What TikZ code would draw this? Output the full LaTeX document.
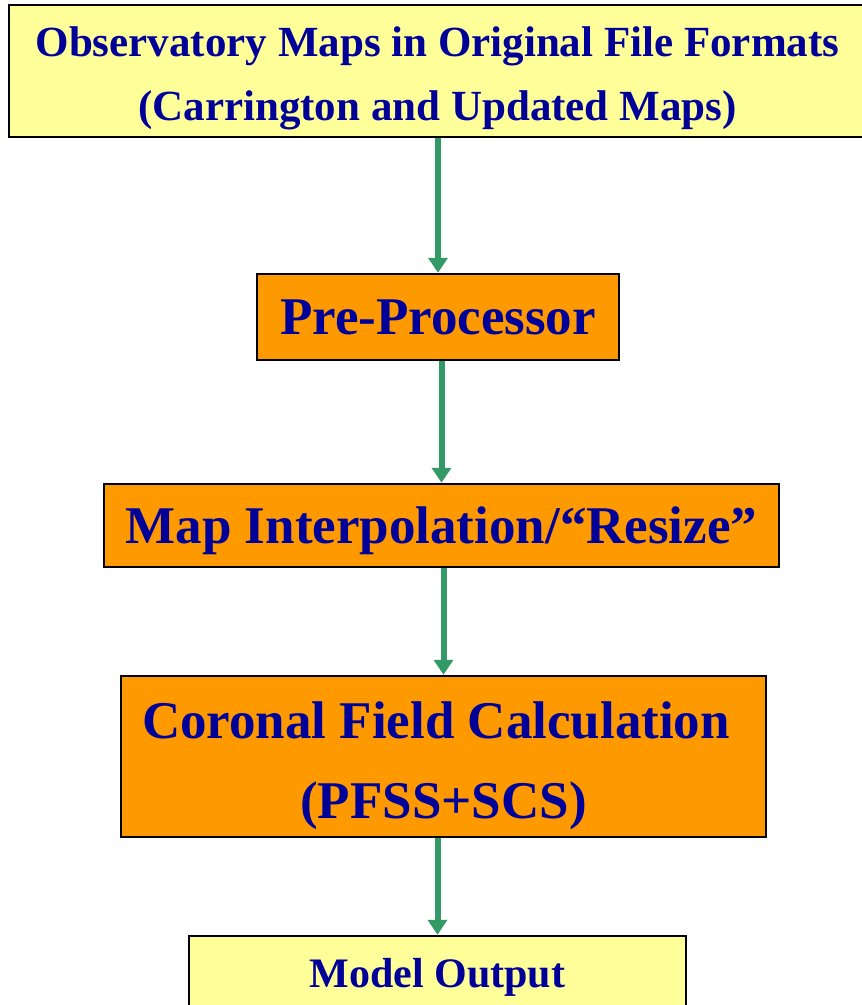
\documentclass[tikz,border=0pt]{standalone}
\usepackage{fontspec}
\setmainfont{Liberation Serif}
\usepackage{xcolor}
\usepackage{tikz}
\usetikzlibrary{arrows.meta}
\definecolor{boxyellow}{HTML}{FFFF99}
\definecolor{boxorange}{HTML}{FF9900}
\definecolor{textnavy}{HTML}{000099}
\definecolor{flowgreen}{HTML}{339966}
\tikzset{nd/.style={rectangle,draw,line width=2.5pt,inner sep=0pt,align=center,text=textnavy},
  ndyellow/.style={nd,fill=boxyellow,font=\bfseries\fontsize{43}{64}\selectfont},
  ndorange/.style={nd,fill=boxorange,font=\bfseries\fontsize{53}{80}\selectfont},
  flow/.style={draw=flowgreen,line width=6pt,-{Triangle[width=19pt,length=15pt]}}}
\begin{document}
\begin{tikzpicture}[x=1pt,y=-1pt]

	\useasboundingbox (0,0) rectangle (862,1005);

	\node[ndyellow, minimum width=857pt, minimum height=132pt, text height=98pt, text depth=0pt] (obs) at (437.5,71)
		{Observatory Maps in Original File Formats\\(Carrington and Updated Maps)};
	\node[ndorange, minimum width=362pt, minimum height=86pt, text height=35pt, text depth=0pt] (pre) at (438,317) {Pre-Processor};
	\node[ndorange, minimum width=675pt, minimum height=83pt, text height=35pt, text depth=0pt] (map) at (441.5,525.5) {Map Interpolation/“Resize”};
	\node[ndorange, minimum width=645pt, minimum height=161pt, text height=123pt, text depth=0pt] (cor) at (443.5,756.5)
		{Coronal Field Calculation\hspace*{15pt}\\(PFSS+SCS)};
	\node[ndyellow, minimum width=497pt, minimum height=76pt, text height=27.8pt, text depth=0pt, font=\bfseries\fontsize{42}{50}\selectfont] (mod) at (437.5,974) {Model Output};

	\foreach \a/\b in {obs/pre, pre/map, map/cor, cor/mod}{
		\draw[flow] (\b.north |- \a.south) -- (\b.north);
	}

\end{tikzpicture}
\end{document}
